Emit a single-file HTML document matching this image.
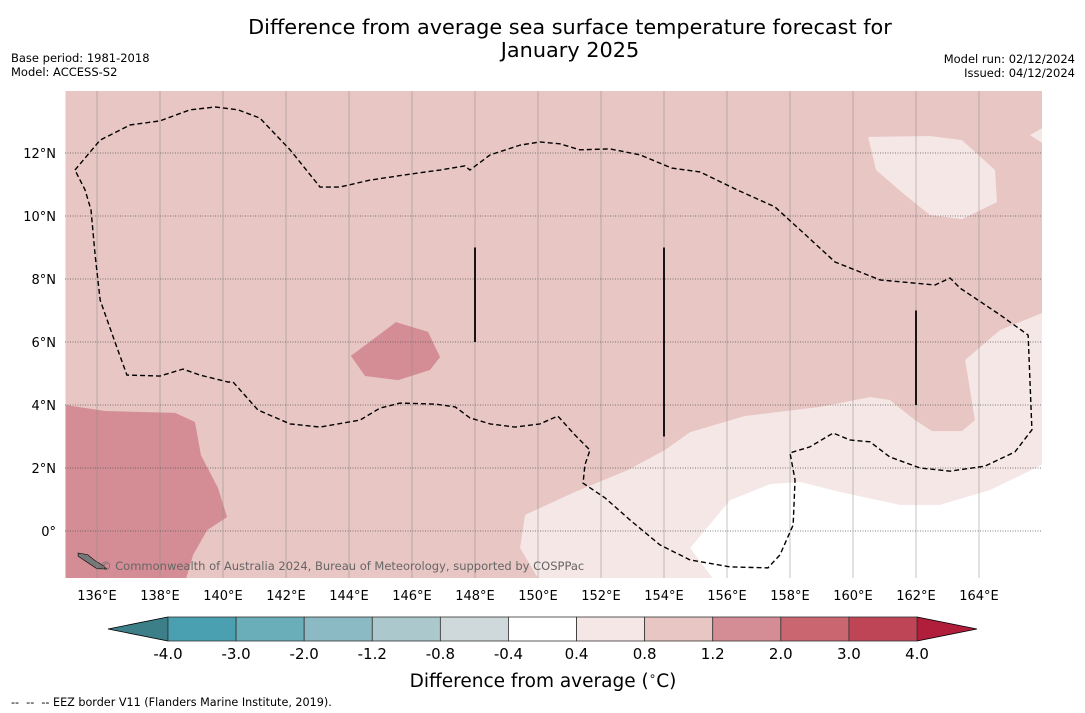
<!DOCTYPE html>
<html><head><meta charset="utf-8"><style>
body{margin:0;background:#fff;font-family:"DejaVu Sans","Liberation Sans",sans-serif}
svg{display:block}
</style></head><body>
<svg id="s" width="1085" height="713" xmlns="http://www.w3.org/2000/svg">
<text x="570" y="34" font-size="20.8" text-anchor="middle">Difference from average sea surface temperature forecast for</text>
<text x="570" y="57" font-size="20.8" text-anchor="middle">January 2025</text>
<text x="11" y="62" font-size="11.5">Base period: 1981-2018</text>
<text x="11" y="76" font-size="11.5">Model: ACCESS-S2</text>
<text x="1075" y="63" font-size="11.5" text-anchor="end">Model run: 02/12/2024</text>
<text x="1075" y="77" font-size="11.5" text-anchor="end">Issued: 04/12/2024</text>
<defs><clipPath id="mc"><rect x="65" y="91" width="977" height="487"/></clipPath></defs>
<g id="map" clip-path="url(#mc)"></g>
<g id="axes"></g>
<g id="cbar"></g>
<text x="543" y="687" font-size="18.5" text-anchor="middle">Difference from average (<tspan font-size="12" dy="-7">∘</tspan><tspan dy="7">C)</tspan></text>
<text x="11" y="706" font-size="11.2" xml:space="preserve" style="white-space:pre">--  --  -- EEZ border V11 (Flanders Marine Institute, 2019).</text>
</svg>
<script>
const NS="http://www.w3.org/2000/svg";
const lonTicks=[136,138,140,142,144,146,148,150,152,154,156,158,160,162,164];
const latTicks=[0,2,4,6,8,10,12];
const latLabels=["0°","2°N","4°N","6°N","8°N","10°N","12°N"];
const levels=[-4,-3,-2,-1.2,-0.8,-0.4,0.4,0.8,1.2,2,3,4];
const levelLabels=["-4.0","-3.0","-2.0","-1.2","-0.8","-0.4","0.4","0.8","1.2","2.0","3.0","4.0"];
const levelColors=["#4aa0b0","#6aaeba","#8cbac4","#abc8cc","#cfd8da","#ffffff","#f5e7e5","#e8c6c3","#d48d95","#c9666f","#bd4556"];
const extLow="#3d7f89", extHigh="#b01e3c";
const regionBase=[[135,15],[166,15],[166,-2],[135,-2]];
const regionDark1=[[135,4],[136.25,3.81],[138.48,3.75],[139.11,3.46],[139.3,2.41],[139.84,1.37],[140.13,0.44],[139.5,0.03],[139.05,-0.76],[138.83,-1.5],[135,-1.5]];
const regionDark2=[[144.06,5.56],[144.73,6.06],[145.49,6.63],[146.51,6.32],[146.89,5.52],[146.57,5.11],[145.56,4.79],[144.51,4.92]];
const regionLight1=[[149.59,0.51],[151.17,1.24],[152.86,1.94],[154.03,2.57],[154.83,3.14],[156.57,3.65],[158.95,3.94],[160.54,4.25],[161.17,4.16],[161.97,3.52],[162.51,3.17],[163.46,3.17],[163.87,3.52],[163.56,5.43],[164.67,6.38],[166,6.92],[166,-1.6],[150.06,-1.6],[149.43,-0.54]];
const regionWhite=[[154.83,-0.54],[156.1,0.98],[157.37,1.49],[158.32,1.56],[159.59,1.24],[161.49,0.83],[162.76,0.83],[164.35,1.3],[166,2.1],[166,-1.6],[155.62,-1.6]];
const regionLight2=[[160.48,12.51],[162.44,12.54],[163.46,12.41],[164.51,11.46],[164.57,10.44],[163.46,9.9],[162.44,10.03],[161.65,10.67],[160.73,11.46]];
const regionLight3=[[165.62,12.57],[166,12.79],[166,12.32]];
const eez=[[135.3,11.46],[136.1,12.41],[137.05,12.89],[138,13.02],[138.95,13.37],[139.75,13.46],[140.48,13.37],[141.17,13.11],[142.13,12.1],[143.08,10.92],[143.71,10.92],[144.67,11.14],[145.94,11.33],[146.89,11.46],[147.68,11.59],[147.84,11.46],[148.48,11.94],[149.43,12.25],[150.06,12.35],[150.7,12.29],[151.33,12.1],[152.29,12.13],[153.24,11.94],[154.25,11.52],[155.14,11.4],[156.32,10.83],[157.52,10.29],[158.32,9.56],[159.43,8.54],[160.86,7.97],[162.6,7.81],[163.08,8.03],[163.4,7.71],[164.67,6.86],[165.56,6.22],[165.68,3.21],[165.14,2.51],[164.19,2.06],[163.08,1.9],[162.13,2],[161.17,2.35],[160.54,2.83],[159.9,2.89],[159.37,3.11],[158.63,2.67],[158,2.48],[158.16,1.62],[158.1,0.19],[157.68,-0.76],[157.3,-1.17],[156.1,-1.14],[154.83,-0.92],[153.87,-0.44],[152.92,0.35],[152.13,1.05],[151.43,1.52],[151.49,2.1],[151.65,2.57],[151.17,3.05],[150.63,3.65],[150.06,3.4],[149.27,3.3],[148.48,3.4],[147.84,3.59],[147.37,3.94],[146.73,4.03],[145.62,4.06],[144.98,3.9],[144.35,3.52],[143.08,3.3],[142.13,3.4],[141.11,3.84],[140.32,4.73],[140.16,4.73],[139.27,4.95],[138.73,5.14],[138,4.92],[136.95,4.95],[136.57,6],[136.1,7.33],[135.94,8.76],[135.81,10.19],[135.62,10.83],[135.3,11.46]];
const segments=[[148,9,6],[154,9,3],[162,7,4]];
const island=[[135.4,-0.7],[135.7,-0.75],[135.95,-0.95],[136.2,-1.1],[136.3,-1.2],[136,-1.2],[135.7,-1.0],[135.4,-0.8]];
function X(lon){return 97+(lon-136)*31.5;}
function Y(lat){return 531-lat*31.5;}
function mk(t,a,p){const e=document.createElementNS(NS,t);for(const k in a)e.setAttribute(k,a[k]);p.appendChild(e);return e;}
const map=document.getElementById('map');
function poly(pts,fill,name){const e=mk('polygon',{points:pts.map(p=>X(p[0])+','+Y(p[1])).join(' '),fill:fill},map);

}
poly(regionBase,"#e8c6c3","anomaly-0.8-1.2");
poly(regionDark1,"#d48d95","anomaly-1.2-2.0-west");
poly(regionDark2,"#d48d95","anomaly-1.2-2.0-blob");
poly(regionLight1,"#f5e7e5","anomaly-0.4-0.8-south");
poly(regionWhite,"#ffffff","anomaly-neutral");
poly(regionLight2,"#f5e7e5","anomaly-0.4-0.8-north");
poly(regionLight3,"#f5e7e5","anomaly-0.4-0.8-corner");
const isl=mk('polygon',{points:island.map(p=>X(p[0])+','+Y(p[1])).join(' '),fill:"#777",stroke:"#000","stroke-width":0.6},map);


lonTicks.forEach(l=>{const g=mk('line',{x1:X(l),x2:X(l),y1:91,y2:578,stroke:"#888","stroke-width":0.5},map);

});
latTicks.forEach(l=>{const g=mk('line',{x1:65,x2:1042,y1:Y(l),y2:Y(l),stroke:"#555","stroke-width":0.7,"stroke-dasharray":"1,1.5"},map);

});
const ez=mk('polyline',{points:eez.map(p=>X(p[0])+','+Y(p[1])).join(' '),fill:"none",stroke:"#000","stroke-width":1.4,"stroke-dasharray":"5,3"},map);


segments.forEach(s=>{const e=mk('line',{x1:X(s[0]),x2:X(s[0]),y1:Y(s[1]),y2:Y(s[2]),stroke:"#000","stroke-width":1.8},map);

});
const cp=mk('text',{x:100,y:570,"font-size":11.5,fill:"#666"},map);cp.textContent="© Commonwealth of Australia 2024, Bureau of Meteorology, supported by COSPPac";


const ax=document.getElementById('axes');
lonTicks.forEach(l=>{const t=mk('text',{x:X(l),y:600,"font-size":13,"text-anchor":"middle"},ax);t.textContent=l+"°E";

});
latTicks.forEach((l,i)=>{const t=mk('text',{x:56,y:Y(l)+5,"font-size":13,"text-anchor":"end"},ax);t.textContent=latLabels[i];

});
const cb=document.getElementById('cbar');
const cx0=168,cx1=917,cy0=617,cy1=641,n=levels.length-1,bw=(cx1-cx0)/n;
const lt=mk('polygon',{points:`${cx0},${cy0} ${cx0},${cy1} 108,${(cy0+cy1)/2}`,fill:extLow,stroke:"#000","stroke-width":0.8},cb);


const rt=mk('polygon',{points:`${cx1},${cy0} ${cx1},${cy1} 977,${(cy0+cy1)/2}`,fill:extHigh,stroke:"#000","stroke-width":0.8},cb);


for(let i=0;i<n;i++){const r=mk('rect',{x:cx0+i*bw,y:cy0,width:bw,height:cy1-cy0,fill:levelColors[i],stroke:"#333","stroke-width":0.8},cb);

}
levels.forEach((v,i)=>{const t=mk('text',{x:cx0+i*bw,y:659,"font-size":15,"text-anchor":"middle"},cb);t.textContent=levelLabels[i];

});
</script>
</body></html>
